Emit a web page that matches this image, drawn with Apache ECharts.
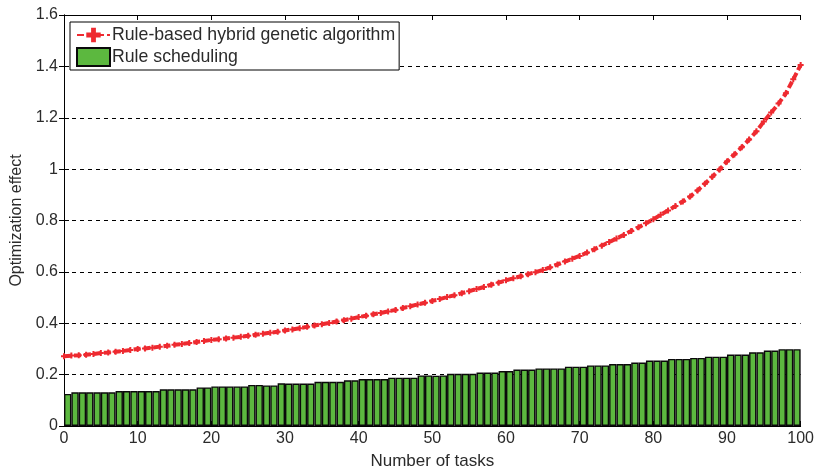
<!DOCTYPE html>
<html>
<head>
<meta charset="utf-8">
<title>Optimization effect vs number of tasks</title>
<script src="https://cdn.jsdelivr.net/npm/echarts@6/dist/echarts.min.js"></script>
<style>
  html, body { margin: 0; padding: 0; background: #fff; }
  #chart { width: 817px; height: 475px; }
</style>
</head>
<body>
<div id="chart"></div>
<script>
// Rule-based hybrid genetic algorithm, one value per task count 0..100
const taskCounts = [];
for (let i = 0; i <= 100; i++) taskCounts.push(i);

const hybridGA = [
  0.272, 0.274, 0.275, 0.277, 0.280, 0.284, 0.286, 0.289, 0.292, 0.296,
  0.300, 0.302, 0.305, 0.309, 0.312, 0.316, 0.319, 0.323, 0.327, 0.331,
  0.335, 0.338, 0.341, 0.344, 0.347, 0.351, 0.355, 0.359, 0.363, 0.367,
  0.372, 0.376, 0.381, 0.386, 0.391, 0.396, 0.401, 0.407, 0.412, 0.418,
  0.424, 0.429, 0.435, 0.440, 0.446, 0.452, 0.459, 0.466, 0.473, 0.480,
  0.487, 0.494, 0.502, 0.509, 0.517, 0.525, 0.533, 0.541, 0.550, 0.558,
  0.567, 0.575, 0.583, 0.591, 0.599, 0.607, 0.618, 0.629, 0.640, 0.651,
  0.662, 0.675, 0.688, 0.702, 0.716, 0.730, 0.744, 0.759, 0.774, 0.789,
  0.805, 0.822, 0.839, 0.856, 0.874, 0.893, 0.917, 0.943, 0.970, 0.999,
  1.030, 1.057, 1.085, 1.115, 1.147, 1.185, 1.220, 1.255, 1.295, 1.350,
  1.405
];

// Rule scheduling, one bar per unit interval (0-1, 1-2, ... 99-100)
const barSlots = [];
for (let i = 0; i < 100; i++) barSlots.push(String(i));

const ruleScheduling = [
  0.125, 0.131, 0.131, 0.131, 0.131, 0.131, 0.131, 0.136, 0.136, 0.136,
  0.136, 0.136, 0.136, 0.143, 0.143, 0.143, 0.143, 0.143, 0.150, 0.150,
  0.154, 0.154, 0.154, 0.154, 0.154, 0.160, 0.160, 0.158, 0.158, 0.166,
  0.165, 0.165, 0.165, 0.165, 0.172, 0.172, 0.172, 0.172, 0.178, 0.178,
  0.183, 0.183, 0.183, 0.183, 0.188, 0.188, 0.188, 0.188, 0.197, 0.197,
  0.196, 0.197, 0.203, 0.203, 0.203, 0.203, 0.208, 0.208, 0.208, 0.214,
  0.214, 0.220, 0.220, 0.220, 0.224, 0.224, 0.224, 0.224, 0.231, 0.231,
  0.231, 0.236, 0.236, 0.236, 0.241, 0.241, 0.241, 0.247, 0.247, 0.255,
  0.255, 0.255, 0.261, 0.261, 0.261, 0.265, 0.265, 0.270, 0.270, 0.270,
  0.278, 0.278, 0.278, 0.287, 0.287, 0.294, 0.294, 0.299, 0.299, 0.299
];

const yTicks = [0, 0.2, 0.4, 0.6, 0.8, 1, 1.2, 1.4, 1.6];

const FONT = '"Liberation Sans", Arial, sans-serif';
const TEXT = '#2b2b2b';

const chart = echarts.init(document.getElementById('chart'), null, { renderer: 'canvas' });

chart.setOption({
  animation: false,
  backgroundColor: '#ffffff',
  textStyle: { fontFamily: FONT, color: TEXT },
  grid: { left: 64, right: 16, top: 15, bottom: 44, containLabel: false },
  legend: {
    orient: 'vertical',
    left: 70,
    top: 22,
    backgroundColor: '#ffffff',
    borderColor: '#000000',
    borderWidth: 1,
    borderRadius: 0,
    padding: [4, 4, 3, 6],
    itemGap: 3,
    itemWidth: 33,
    itemHeight: 18,
    textStyle: { fontFamily: FONT, fontSize: 17.7, color: TEXT, padding: [0, 0, 0, -3] },
    data: [
      { name: 'Rule-based hybrid genetic algorithm' },
      { name: 'Rule scheduling', icon: 'rect' }
    ]
  },
  xAxis: [
    {
      type: 'value', position: 'bottom', min: 0, max: 100, interval: 10,
      name: 'Number of tasks', nameLocation: 'middle', nameGap: 27,
      nameTextStyle: { fontFamily: FONT, fontSize: 17, color: TEXT },
      axisLine: { show: true, lineStyle: { color: '#000', width: 1 } },
      axisTick: { show: true, inside: true, length: 5, lineStyle: { color: '#000' } },
      axisLabel: { fontFamily: FONT, fontSize: 16, color: TEXT, margin: 5 },
      splitLine: { show: false }
    },
    {
      type: 'category', data: barSlots, show: false, boundaryGap: true
    },
    {
      type: 'value', position: 'top', min: 0, max: 100, interval: 10,
      axisLine: { show: true, lineStyle: { color: '#000', width: 1 } },
      axisTick: { show: true, inside: true, length: 5, lineStyle: { color: '#000' } },
      axisLabel: { show: false },
      splitLine: { show: false }
    }
  ],
  yAxis: [
    {
      type: 'value', position: 'left', min: 0, max: 1.6, interval: 0.2,
      name: 'Optimization effect', nameLocation: 'middle', nameGap: 34,
      nameTextStyle: { fontFamily: FONT, fontSize: 16, color: TEXT },
      axisLine: { show: true, lineStyle: { color: '#000', width: 1 } },
      axisTick: { show: true, inside: true, length: 5, lineStyle: { color: '#000' } },
      axisLabel: {
        fontFamily: FONT, fontSize: 16, color: TEXT, margin: 6,
        formatter: v => {
          const t = yTicks.find(x => Math.abs(x - v) < 1e-6);
          return t === undefined ? '' : String(t);
        }
      },
      splitLine: { show: true, lineStyle: { color: '#000', width: 1, type: [4, 4] } }
    },
    {
      type: 'value', position: 'right', min: 0, max: 1.6, interval: 0.2,
      axisLine: { show: true, lineStyle: { color: '#000', width: 1 } },
      axisTick: { show: true, inside: true, length: 5, lineStyle: { color: '#000' } },
      axisLabel: { show: false },
      splitLine: { show: false }
    }
  ],
  series: [
    {
      name: 'Rule scheduling',
      type: 'bar',
      xAxisIndex: 1,
      yAxisIndex: 0,
      barCategoryGap: '0%',
      data: ruleScheduling,
      itemStyle: { color: '#5cb83f', borderColor: '#0a0a0a', borderWidth: 1.4 },
      z: 2
    },
    {
      name: 'Rule-based hybrid genetic algorithm',
      type: 'line',
      xAxisIndex: 0,
      yAxisIndex: 0,
      data: taskCounts.map((x, i) => [x, hybridGA[i]]),
      symbol: 'path://M2,0H4V2H6V4H4V6H2V4H0V2H2Z',
      symbolSize: 6,
      showSymbol: true,
      itemStyle: { color: '#ee2a30' },
      lineStyle: { color: '#ee2a30', width: 4, type: [7, 3] },
      z: 3
    }
  ]
});
</script>
</body>
</html>
